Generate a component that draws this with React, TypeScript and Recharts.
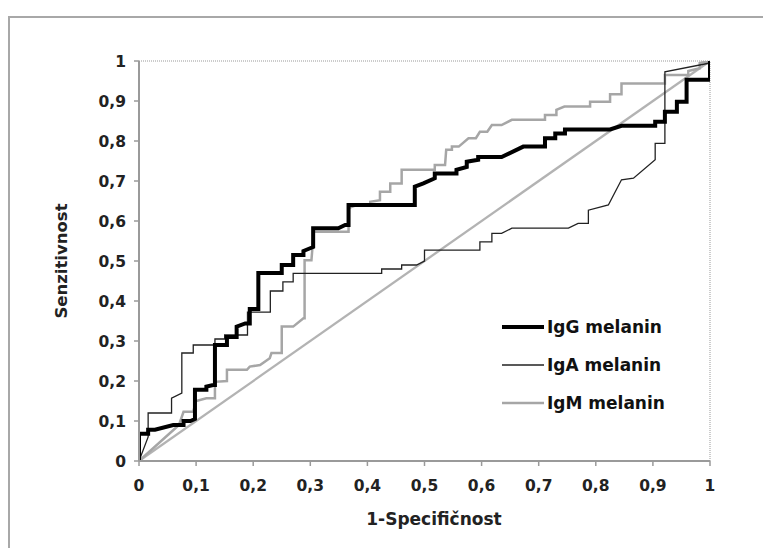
import { LineChart, Line, XAxis, YAxis, ReferenceLine, Label } from 'recharts'

// ROC curves, points are [1-specificity, sensitivity]
const igG: [number, number][] = [
  [0, 0], [0, 0.068], [0.016, 0.068], [0.016, 0.078], [0.028, 0.078], [0.06, 0.09],
  [0.078, 0.09], [0.078, 0.1], [0.09, 0.1], [0.098, 0.105], [0.098, 0.178], [0.118, 0.178],
  [0.118, 0.186], [0.13, 0.19], [0.133, 0.19], [0.133, 0.29], [0.154, 0.29], [0.154, 0.31],
  [0.171, 0.31], [0.171, 0.336], [0.186, 0.344], [0.194, 0.344], [0.194, 0.38], [0.209, 0.38],
  [0.209, 0.47], [0.25, 0.47], [0.25, 0.49], [0.27, 0.49], [0.27, 0.515], [0.288, 0.515],
  [0.288, 0.525], [0.305, 0.535], [0.305, 0.582], [0.349, 0.582], [0.361, 0.59], [0.367, 0.59],
  [0.367, 0.64], [0.483, 0.64], [0.483, 0.686], [0.498, 0.694], [0.518, 0.707], [0.518, 0.719],
  [0.556, 0.719], [0.556, 0.728], [0.574, 0.735], [0.574, 0.748], [0.594, 0.753], [0.594, 0.76],
  [0.635, 0.76], [0.673, 0.786], [0.711, 0.786], [0.711, 0.807], [0.729, 0.807], [0.729, 0.819],
  [0.746, 0.819], [0.746, 0.829], [0.825, 0.829], [0.845, 0.838], [0.904, 0.838], [0.904, 0.848],
  [0.921, 0.848], [0.921, 0.873], [0.942, 0.873], [0.942, 0.898], [0.959, 0.898], [0.959, 0.953],
  [1, 0.953], [1, 1],
]

const igA: [number, number][] = [
  [0, 0], [0.016, 0.06], [0.016, 0.12], [0.057, 0.12], [0.057, 0.157], [0.075, 0.17],
  [0.075, 0.27], [0.095, 0.27], [0.095, 0.29], [0.133, 0.29], [0.133, 0.305], [0.15, 0.305],
  [0.15, 0.315], [0.19, 0.315], [0.19, 0.372], [0.23, 0.372], [0.23, 0.425], [0.252, 0.425],
  [0.252, 0.448], [0.27, 0.448], [0.27, 0.469], [0.425, 0.469], [0.425, 0.48], [0.46, 0.48],
  [0.46, 0.49], [0.486, 0.49], [0.5, 0.5], [0.5, 0.527], [0.597, 0.527], [0.597, 0.548],
  [0.618, 0.548], [0.618, 0.569], [0.635, 0.569], [0.653, 0.582], [0.752, 0.582], [0.769, 0.594],
  [0.787, 0.594], [0.787, 0.627], [0.822, 0.64], [0.845, 0.703], [0.866, 0.707], [0.904, 0.753],
  [0.904, 0.794], [0.921, 0.794], [0.921, 0.973], [1, 0.995],
]

const igM: [number, number][] = [
  [0, 0], [0.07, 0.09], [0.078, 0.123], [0.095, 0.123], [0.1, 0.15], [0.118, 0.157],
  [0.133, 0.157], [0.133, 0.198], [0.154, 0.2], [0.154, 0.228], [0.189, 0.228], [0.194, 0.236],
  [0.212, 0.24], [0.229, 0.257], [0.232, 0.27], [0.25, 0.27], [0.25, 0.336], [0.27, 0.336],
  [0.288, 0.357], [0.29, 0.357], [0.29, 0.502], [0.302, 0.502], [0.306, 0.573], [0.367, 0.573],
  [0.367, 0.632], [0.381, 0.64], [0.405, 0.64], [0.405, 0.648], [0.422, 0.652], [0.422, 0.673],
  [0.44, 0.673], [0.44, 0.694], [0.46, 0.694], [0.46, 0.728], [0.518, 0.728], [0.518, 0.74],
  [0.536, 0.74], [0.538, 0.778], [0.548, 0.778], [0.548, 0.786], [0.56, 0.786], [0.577, 0.807],
  [0.59, 0.807], [0.597, 0.823], [0.61, 0.823], [0.618, 0.84], [0.635, 0.84], [0.653, 0.853],
  [0.711, 0.853], [0.711, 0.865], [0.731, 0.865], [0.731, 0.878], [0.745, 0.886], [0.79, 0.886],
  [0.79, 0.898], [0.825, 0.898], [0.825, 0.917], [0.845, 0.917], [0.845, 0.944], [0.921, 0.944],
  [0.921, 0.965], [0.962, 0.965], [0.962, 0.975], [0.982, 0.982], [0.982, 0.995], [1, 1],
]

const reference: [number, number][] = [[0, 0], [1, 1]]

const ticks = [0, 0.1, 0.2, 0.3, 0.4, 0.5, 0.6, 0.7, 0.8, 0.9, 1]

const series = [
  { name: 'IgG melanin', color: '#000000', width: 4 },
  { name: 'IgA melanin', color: '#222222', width: 1.3 },
  { name: 'IgM melanin', color: '#a6a6a6', width: 2.5 },
]

const FONT = '"DejaVu Sans", sans-serif'

const toRows = (pts: [number, number][]) => pts.map(([x, y]) => ({ x, y }))
const fmt = (v: number) => String(v).replace('.', ',')

const tickStyle = { fontSize: 15.5, fontWeight: 'bold', fill: '#222', fontFamily: FONT }

function LegendBox() {
  return (
    <div style={{
      position: 'absolute', left: 502, top: 308,
      fontFamily: FONT, fontWeight: 'bold', fontSize: 17, color: '#111',
    }}>
      {series.map(s => (
        <div key={s.name} style={{ display: 'flex', alignItems: 'center', height: 38 }}>
          <svg width={42} height={10}>
            <line x1={0} y1={5} x2={42} y2={5} stroke={s.color} strokeWidth={s.width} />
          </svg>
          <span style={{ marginLeft: 3 }}>{s.name}</span>
        </div>
      ))}
    </div>
  )
}

export default function App() {
  return (
    <div style={{ position: 'relative', width: 763, height: 548, overflow: 'hidden', background: '#fff' }}>
      <style>{'body{margin:0}'}</style>
      <div
        style={{
          position: 'absolute', left: 8, top: 16, width: 760, height: 540,
          borderTop: '2px solid #a8a8a8', borderLeft: '2px solid #a8a8a8',
        }}
      />
      <div style={{ position: 'absolute', left: 0, top: 0 }}>
        <LineChart width={763} height={548} margin={{ top: 61, right: 53, bottom: 0, left: 0 }}>
          <XAxis
            dataKey="x"
            type="number"
            domain={[0, 1]}
            ticks={ticks}
            tickFormatter={fmt}
            height={87}
            tick={tickStyle}
            tickSize={5}
            tickMargin={14}
            axisLine={{ stroke: '#9a9a9a', strokeWidth: 2 }}
            tickLine={{ stroke: '#9a9a9a', strokeWidth: 1.5 }}
            allowDataOverflow
          >
            <Label
              content={() => (
                <text x={434} y={519} textAnchor="middle" dominantBaseline="central"
                  fontFamily={FONT} fontWeight="bold" fontSize={17} fill="#222">
                  1-Specifičnost
                </text>
              )}
            />
          </XAxis>
          <YAxis
            dataKey="y"
            type="number"
            domain={[0, 1]}
            ticks={ticks}
            tickFormatter={fmt}
            width={139}
            tick={tickStyle}
            tickSize={5}
            tickMargin={8}
            axisLine={{ stroke: '#9a9a9a', strokeWidth: 2 }}
            tickLine={{ stroke: '#9a9a9a', strokeWidth: 1.5 }}
            allowDataOverflow
          >
            <Label
              content={() => (
                <text x={61} y={261} textAnchor="middle" dominantBaseline="central"
                  transform="rotate(-90 61 261)"
                  fontFamily={FONT} fontWeight="bold" fontSize={16.5} fill="#222">
                  Senzitivnost
                </text>
              )}
            />
          </YAxis>
          <ReferenceLine y={1} stroke="#999" strokeDasharray="1 1" />
          <ReferenceLine x={1} stroke="#999" strokeDasharray="1 1" />
          <Line data={toRows(reference)} dataKey="y" type="linear" stroke="#b3b3b3" strokeWidth={2.3}
            dot={false} isAnimationActive={false} legendType="none" />
          <Line data={toRows(igM)} dataKey="y" name="IgM melanin" type="linear" stroke="#a6a6a6"
            strokeWidth={2.5} dot={false} isAnimationActive={false} />
          <Line data={toRows(igA)} dataKey="y" name="IgA melanin" type="linear" stroke="#222"
            strokeWidth={1.3} dot={false} isAnimationActive={false} />
          <Line data={toRows(igG)} dataKey="y" name="IgG melanin" type="linear" stroke="#000"
            strokeWidth={4} dot={false} isAnimationActive={false} />
        </LineChart>
      </div>
      <LegendBox />
    </div>
  )
}
